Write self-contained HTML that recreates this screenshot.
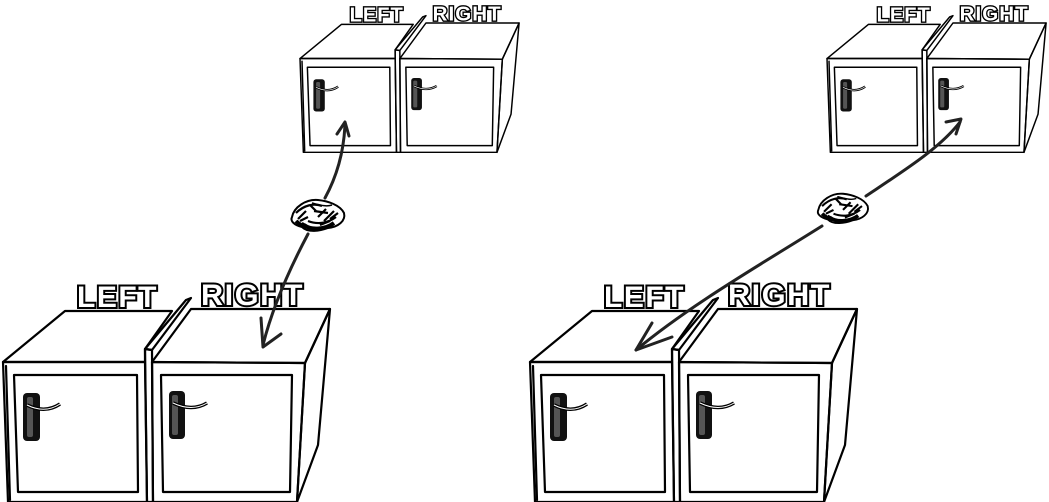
<!DOCTYPE html>
<html><head><meta charset="utf-8"><style>
html,body{margin:0;padding:0;background:#fff;}
svg{display:block;}
.l{fill:none;stroke:#000;stroke-width:2.2;stroke-linejoin:round;stroke-linecap:round;}
.lb{font-family:"Liberation Sans",sans-serif;font-weight:bold;font-size:30px;fill:#fff;stroke:#000;stroke-width:4;paint-order:stroke;letter-spacing:1.5px;}
.ar{fill:none;stroke:#222;stroke-width:3;stroke-linecap:round;stroke-linejoin:round;}
</style></head><body>
<svg width="1049" height="502" viewBox="0 0 1049 502" xmlns="http://www.w3.org/2000/svg">
<defs>
<g id="cab">
  <text class="lb" x="77" y="307">LEFT</text>
  <text class="lb" x="201" y="305" textLength="103" lengthAdjust="spacingAndGlyphs">RIGHT</text>
  <path class="l" fill="#fff" d="M3,362 L65,311 L172,311 L145,349 L145,362 Z"/>
  <path class="l" fill="#fff" d="M3,362 L145,362 L147,502 L8,502 Z"/>
  <path class="l" d="M6,366 L10,500"/>
  <path class="l" d="M14,375 L137,375 L138,492 L18,492 Z"/>
  <path class="l" fill="#fff" d="M145,349 L186,300 L191,298 L152,350 Z"/>
  <path class="l" fill="#fff" d="M145,349 L152,350 L153,502 L147,502 Z"/>
  <path class="l" fill="#fff" d="M152,362 L191,309 L330,309 L305,363 Z"/>
  <path class="l" fill="#fff" d="M305,363 L330,309 L318,445 L297,502 Z"/>
  <path class="l" fill="#fff" d="M152,362 L305,363 L297,502 L153,502 Z"/>
  <path class="l" d="M161,375 L292,375 L290,492 L163,492 Z"/>
  <rect x="23" y="393" width="17" height="48" rx="4" fill="#111"/>
  <rect x="27" y="397" width="6" height="40" rx="2" fill="#555"/>
  <path d="M27,405 Q45,414 60,404" fill="none" stroke="#000" stroke-width="3.5"/>
  <path d="M27,405 Q45,414 60,404" fill="none" stroke="#fff" stroke-width="1"/>
  <rect x="169" y="391" width="16" height="48" rx="4" fill="#111"/>
  <rect x="172" y="395" width="6" height="40" rx="2" fill="#555"/>
  <path d="M173,403 Q192,412 207,403" fill="none" stroke="#000" stroke-width="3.5"/>
  <path d="M173,403 Q192,412 207,403" fill="none" stroke="#fff" stroke-width="1"/>
</g>
<g id="rock">
  <path d="M-26,2 C-24,-8 -12,-16 0,-15 C10,-14 22,-10 26,-2 C28,6 20,12 10,13 C2,16 -10,18 -16,12 C-24,10 -28,6 -26,2 Z" fill="#fff" stroke="#000" stroke-width="2"/>
  <path d="M-22,-2 C-14,-10 -4,-12 4,-9 M-10,6 C0,10 10,8 18,2 M-4,-4 L10,-2 M-16,8 L-6,14 M6,6 L16,-4 M-20,4 L-12,-4 M0,2 L8,-6 M12,4 L20,-2 M-8,-10 L-2,-4 M2,10 L12,6 M-18,6 L-10,2" fill="none" stroke="#000" stroke-width="2.2"/>
  <path d="M-14,10 C-6,16 8,14 16,8 M-22,6 C-18,10 -14,12 -10,12" fill="none" stroke="#000" stroke-width="4"/>
  <path d="M-6,-12 C2,-10 8,-8 14,-10" fill="none" stroke="#000" stroke-width="1.5"/>
</g>
</defs>

<use href="#cab"/>
<use href="#cab" transform="translate(527,0)"/>
<use href="#cab" transform="translate(300,23) scale(0.67) translate(-3,-309)"/>
<use href="#cab" transform="translate(827,23) scale(0.67) translate(-3,-309)"/>

<path class="ar" d="M325,198 C337,176 344,150 345,124"/>
<path class="ar" d="M337,134 L345,122 L349,136"/>
<path class="ar" d="M308,234 C290,268 273,305 263,345"/>
<path class="ar" d="M261,318 L263,347 L281,334"/>
<use href="#rock" transform="translate(318,215)"/>

<path class="ar" d="M866,196 C905,170 940,148 960,122"/>
<path class="ar" d="M946,122 L961,119 L956,134"/>
<path class="ar" d="M822,226 C760,265 690,305 636,350"/>
<path class="ar" d="M652,323 L636,350 L672,337"/>
<use href="#rock" transform="translate(843,208) scale(0.95)"/>
</svg>
</body></html>
